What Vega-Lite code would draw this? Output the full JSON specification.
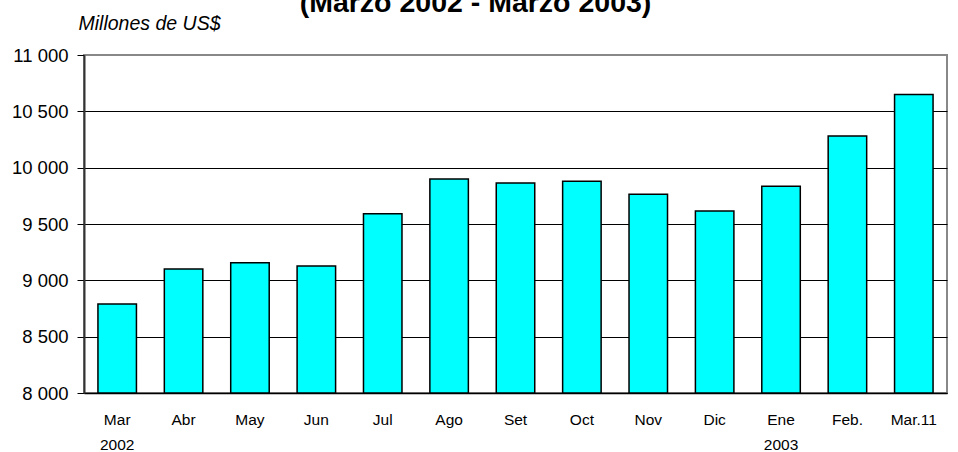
{
  "$schema": "https://vega.github.io/schema/vega-lite/v6.json",
  "width": 863,
  "height": 338,
  "autosize": {"type": "none"},
  "padding": {"left": 84, "top": 55, "right": 11, "bottom": 59},
  "background": "white",
  "title": {
    "text": "(Marzo 2002 - Marzo 2003)",
    "font": "Liberation Sans",
    "fontSize": 28.5,
    "fontWeight": "bold",
    "color": "black",
    "anchor": "middle",
    "dx": -40,
    "dy": 4,
    "offset": 0
  },
  "config": {
    "view": {"stroke": "#888888", "strokeWidth": 2},
    "font": "Liberation Sans"
  },
  "data": {
    "values": [
      {"mes": "Mar", "valor": 8790},
      {"mes": "Abr", "valor": 9100},
      {"mes": "May", "valor": 9155},
      {"mes": "Jun", "valor": 9127},
      {"mes": "Jul", "valor": 9590},
      {"mes": "Ago", "valor": 9900},
      {"mes": "Set", "valor": 9865},
      {"mes": "Oct", "valor": 9880},
      {"mes": "Nov", "valor": 9765},
      {"mes": "Dic", "valor": 9615},
      {"mes": "Ene", "valor": 9835},
      {"mes": "Feb.", "valor": 10280},
      {"mes": "Mar.11", "valor": 10650}
    ]
  },
  "mark": {"type": "bar", "fill": "#00FFFF", "stroke": "black", "strokeWidth": 1.5},
  "encoding": {
    "x": {
      "field": "mes",
      "type": "nominal",
      "sort": null,
      "scale": {"paddingInner": 0.42, "paddingOuter": 0.21},
      "axis": {
        "title": null,
        "labelAngle": 0,
        "labelFont": "Liberation Sans",
        "labelFontSize": 15.5,
        "labelColor": "black",
        "labelPadding": 26,
        "labelLineHeight": 25,
        "labelBaseline": "middle",
        "ticks": false,
        "domainColor": "black",
        "domainWidth": 1.5,
        "labelExpr": "datum.label == 'Mar' ? ['Mar', '2002'] : datum.label == 'Ene' ? ['Ene', '2003'] : datum.label"
      }
    },
    "y": {
      "field": "valor",
      "type": "quantitative",
      "scale": {"domain": [8000, 11000], "nice": false, "zero": false},
      "axis": {
        "values": [8000, 8500, 9000, 9500, 10000, 10500, 11000],
        "labelExpr": "replace(format(datum.value, ','), ',', ' ')",
        "labelFont": "Liberation Sans",
        "labelFontSize": 18.5,
        "labelColor": "black",
        "labelPadding": 9,
        "tickSize": 7,
        "tickColor": "black",
        "domainColor": "#333333",
        "domainWidth": 2,
        "grid": true,
        "gridColor": {"condition": {"test": "datum.value == 11000", "value": "#888888"}, "value": "black"},
        "gridWidth": 1,
        "title": "Millones de US$",
        "titleFont": "Liberation Sans",
        "titleAngle": 0,
        "titleFontStyle": "italic",
        "titleFontWeight": "normal",
        "titleFontSize": 19.5,
        "titleColor": "black",
        "titleAlign": "left",
        "titleBaseline": "middle",
        "titleX": -6,
        "titleY": -32
      }
    },
    "y2": {"datum": 8000}
  }
}
